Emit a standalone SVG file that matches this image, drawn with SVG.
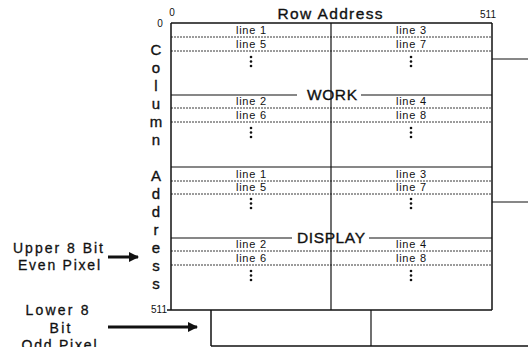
<svg xmlns="http://www.w3.org/2000/svg" width="528" height="347" viewBox="0 0 528 347">
<style>
text{font-family:"Liberation Sans",Arial,sans-serif;fill:#111}
.ln{font-size:11px;text-anchor:middle}
.big{font-size:15.5px;text-anchor:middle;stroke:#111;stroke-width:0.35}
.let{font-size:15px;text-anchor:middle;stroke:#111;stroke-width:0.35}
.num{font-size:10px}
.lab{font-size:14px;text-anchor:middle;stroke:#111;stroke-width:0.3}
.edge{stroke:#111;stroke-width:1.5;fill:none}
.solid{stroke:#111;stroke-width:1.2;fill:none}
.dash{stroke:#222;stroke-width:0.9;stroke-dasharray:2 1;fill:none}
.dot{fill:#111}
</style>
<defs>
<marker id="ah" viewBox="0 0 10 10" refX="9" refY="5" markerWidth="3.4" markerHeight="3.4" orient="auto">
<path d="M0,0 L10,5 L0,10 z" fill="#111"/>
</marker>
</defs>
<rect width="528" height="347" fill="#fff"/>

<g id="axes">
<text x="330" y="19" class="big" textLength="105" lengthAdjust="spacing">Row Address</text>
<text x="172" y="16" class="num" text-anchor="middle">0</text>
<text x="160" y="27" class="num" text-anchor="middle">0</text>
<text x="488" y="18" class="num" text-anchor="middle">511</text>
<text x="167" y="313" class="num" text-anchor="end" font-size="9">511</text>
<g class="let-col">
<text x="156" y="55" class="let">C</text>
<text x="156" y="73" class="let">o</text>
<text x="156" y="91" class="let">l</text>
<text x="156" y="109" class="let">u</text>
<text x="156" y="127" class="let">m</text>
<text x="156" y="145" class="let">n</text>
<text x="156" y="181" class="let">A</text>
<text x="156" y="199" class="let">d</text>
<text x="156" y="217" class="let">d</text>
<text x="156" y="235" class="let">r</text>
<text x="156" y="253" class="let">e</text>
<text x="156" y="271" class="let">s</text>
<text x="156" y="289" class="let">s</text>
</g>
</g>

<g id="work-plane">
<line x1="171" y1="23" x2="492" y2="23" class="edge" stroke-width="1.8"/>
<line x1="171" y1="37" x2="492" y2="37" class="dash"/>
<line x1="171" y1="51" x2="492" y2="51" class="dash"/>
<line x1="171" y1="95" x2="297" y2="95" class="solid"/>
<line x1="361" y1="95" x2="492" y2="95" class="solid"/>
<line x1="171" y1="108" x2="492" y2="108" class="dash"/>
<line x1="171" y1="122" x2="492" y2="122" class="dash"/>
<text x="332" y="100" class="big" textLength="50" lengthAdjust="spacing">WORK</text>
<text x="251" y="34" class="ln" textLength="30" lengthAdjust="spacing">line 1</text>
<text x="411" y="34" class="ln" textLength="30" lengthAdjust="spacing">line 3</text>
<text x="251" y="48" class="ln" textLength="30" lengthAdjust="spacing">line 5</text>
<text x="411" y="48" class="ln" textLength="30" lengthAdjust="spacing">line 7</text>
<text x="251" y="105" class="ln" textLength="30" lengthAdjust="spacing">line 2</text>
<text x="411" y="105" class="ln" textLength="30" lengthAdjust="spacing">line 4</text>
<text x="251" y="119" class="ln" textLength="30" lengthAdjust="spacing">line 6</text>
<text x="411" y="119" class="ln" textLength="30" lengthAdjust="spacing">line 8</text>
<circle cx="251" cy="57" r="1.3" class="dot"/><circle cx="251" cy="61.5" r="1.3" class="dot"/><circle cx="251" cy="66" r="1.3" class="dot"/>
<circle cx="411" cy="57" r="1.3" class="dot"/><circle cx="411" cy="61.5" r="1.3" class="dot"/><circle cx="411" cy="66" r="1.3" class="dot"/>
<circle cx="251" cy="128" r="1.3" class="dot"/><circle cx="251" cy="132.5" r="1.3" class="dot"/><circle cx="251" cy="137" r="1.3" class="dot"/>
<circle cx="411" cy="128" r="1.3" class="dot"/><circle cx="411" cy="132.5" r="1.3" class="dot"/><circle cx="411" cy="137" r="1.3" class="dot"/>
</g>

<g id="display-plane">
<line x1="171" y1="167" x2="492" y2="167" class="solid" stroke-width="1.4"/>
<line x1="171" y1="181" x2="492" y2="181" class="dash"/>
<line x1="171" y1="194" x2="492" y2="194" class="dash"/>
<line x1="171" y1="238" x2="292" y2="238" class="solid"/>
<line x1="369" y1="238" x2="492" y2="238" class="solid"/>
<line x1="171" y1="251" x2="492" y2="251" class="dash"/>
<line x1="171" y1="265" x2="492" y2="265" class="dash"/>
<text x="331" y="243" class="big" textLength="68" lengthAdjust="spacing">DISPLAY</text>
<text x="251" y="178" class="ln" textLength="30" lengthAdjust="spacing">line 1</text>
<text x="411" y="178" class="ln" textLength="30" lengthAdjust="spacing">line 3</text>
<text x="251" y="191" class="ln" textLength="30" lengthAdjust="spacing">line 5</text>
<text x="411" y="191" class="ln" textLength="30" lengthAdjust="spacing">line 7</text>
<text x="251" y="248" class="ln" textLength="30" lengthAdjust="spacing">line 2</text>
<text x="411" y="248" class="ln" textLength="30" lengthAdjust="spacing">line 4</text>
<text x="251" y="262" class="ln" textLength="30" lengthAdjust="spacing">line 6</text>
<text x="411" y="262" class="ln" textLength="30" lengthAdjust="spacing">line 8</text>
<circle cx="251" cy="199" r="1.3" class="dot"/><circle cx="251" cy="203.5" r="1.3" class="dot"/><circle cx="251" cy="208" r="1.3" class="dot"/>
<circle cx="411" cy="199" r="1.3" class="dot"/><circle cx="411" cy="203.5" r="1.3" class="dot"/><circle cx="411" cy="208" r="1.3" class="dot"/>
<circle cx="251" cy="271" r="1.3" class="dot"/><circle cx="251" cy="275.5" r="1.3" class="dot"/><circle cx="251" cy="280" r="1.3" class="dot"/>
<circle cx="411" cy="271" r="1.3" class="dot"/><circle cx="411" cy="275.5" r="1.3" class="dot"/><circle cx="411" cy="280" r="1.3" class="dot"/>
</g>

<g id="frame">
<line x1="171" y1="23" x2="171" y2="310" class="edge"/>
<line x1="492" y1="23" x2="492" y2="310" class="edge"/>
<line x1="331" y1="23" x2="331" y2="310" class="solid"/>
<line x1="167" y1="310" x2="492" y2="310" class="edge"/>
</g>

<g id="lower-plane">
<line x1="211" y1="310" x2="211" y2="346" class="edge"/>
<line x1="371" y1="310" x2="371" y2="346" class="solid"/>
<line x1="211" y1="346" x2="528" y2="346" class="edge"/>
</g>

<g id="upper-label">
<text x="58" y="253" class="lab" textLength="90" lengthAdjust="spacing">Upper 8 Bit</text>
<text x="59" y="270" class="lab" textLength="82" lengthAdjust="spacing">Even Pixel</text>
</g>
<g id="lower-label">
<text x="57" y="315" class="lab" textLength="63" lengthAdjust="spacing">Lower 8</text>
<text x="60" y="333" class="lab" textLength="21" lengthAdjust="spacing">Bit</text>
<text x="59" y="350" class="lab" textLength="75" lengthAdjust="spacing">Odd Pixel</text>
</g>

<g id="connectors">
<line x1="108" y1="257" x2="138" y2="257" stroke="#111" stroke-width="3" marker-end="url(#ah)"/>
<line x1="108" y1="327" x2="197" y2="327" stroke="#111" stroke-width="3" marker-end="url(#ah)"/>
<line x1="492" y1="59" x2="528" y2="59" class="solid" stroke-width="1"/>
<line x1="492" y1="202" x2="528" y2="202" class="solid" stroke-width="1"/>
</g>
</svg>
